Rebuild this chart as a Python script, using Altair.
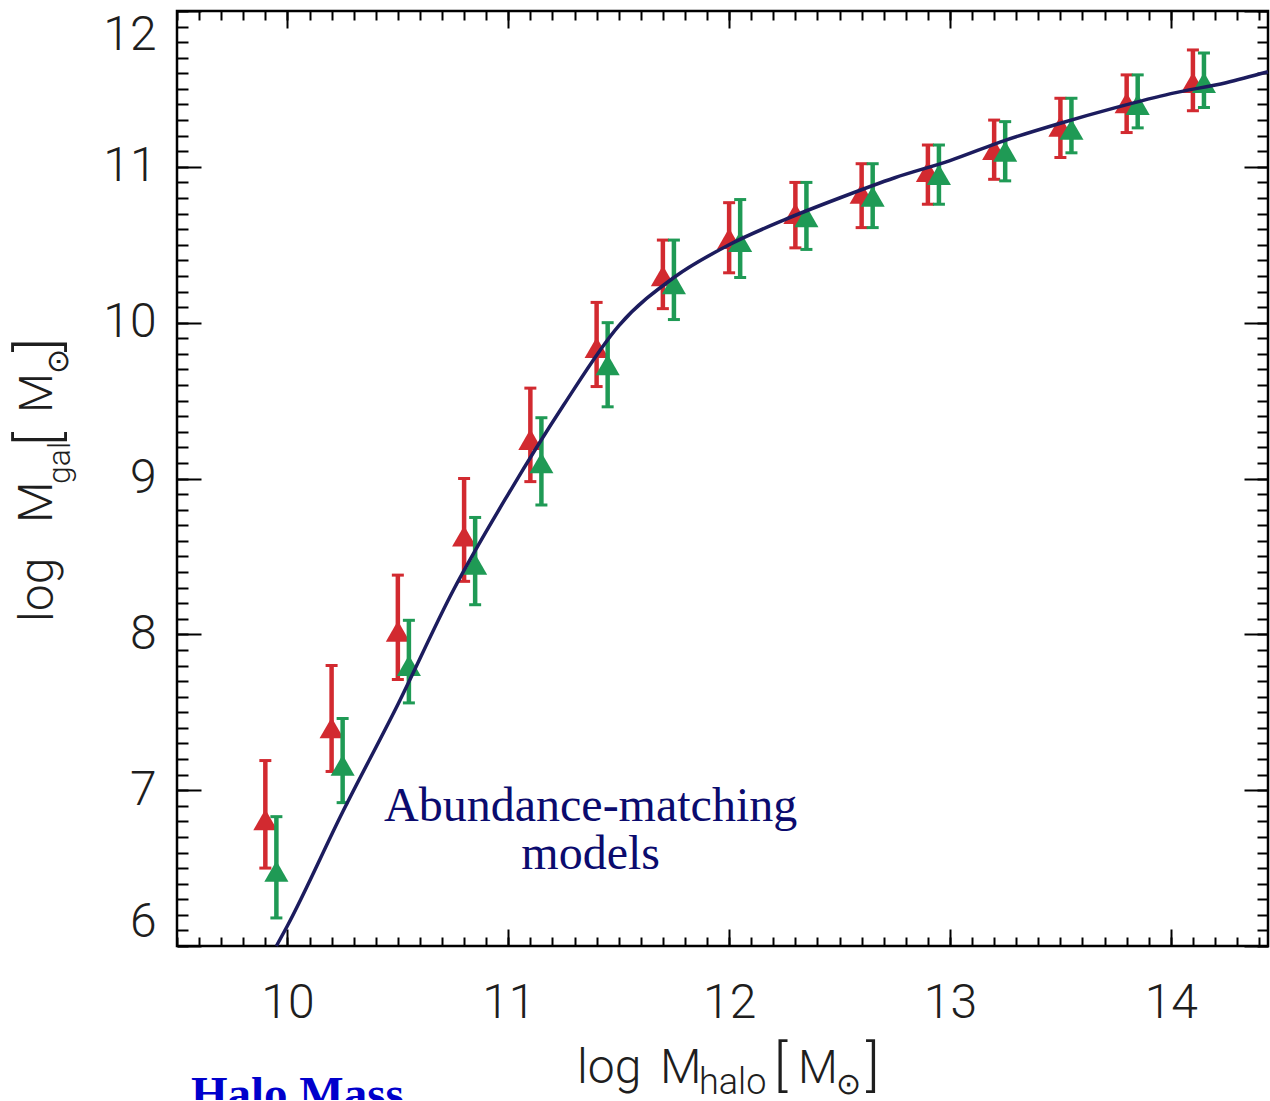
import altair as alt
import pandas as pd

# ---------------- data ----------------
x_red = [9.90, 10.20, 10.50, 10.80, 11.10, 11.40, 11.70, 12.00, 12.30, 12.60, 12.90, 13.20, 13.50, 13.80, 14.10]
y_red = [6.81, 7.40, 8.02, 8.63, 9.25, 9.84, 10.30, 10.54, 10.70, 10.83, 10.97, 11.11, 11.26, 11.41, 11.54]
hi_red = [7.19, 7.80, 8.38, 9.00, 9.58, 10.13, 10.53, 10.77, 10.90, 11.02, 11.14, 11.30, 11.44, 11.59, 11.75]
lo_red = [6.50, 7.12, 7.71, 8.34, 8.98, 9.59, 10.09, 10.32, 10.48, 10.61, 10.76, 10.92, 11.06, 11.22, 11.36]

x_green = [9.95, 10.25, 10.55, 10.85, 11.15, 11.45, 11.75, 12.05, 12.35, 12.65, 12.95, 13.25, 13.55, 13.85, 14.15]
y_green = [6.48, 7.16, 7.80, 8.45, 9.10, 9.73, 10.25, 10.52, 10.68, 10.81, 10.95, 11.10, 11.24, 11.40, 11.54]
hi_green = [6.83, 7.46, 8.09, 8.75, 9.39, 10.00, 10.53, 10.79, 10.90, 11.02, 11.14, 11.29, 11.44, 11.59, 11.73]
lo_green = [6.18, 6.92, 7.56, 8.19, 8.83, 9.46, 10.02, 10.29, 10.47, 10.61, 10.76, 10.91, 11.09, 11.25, 11.38]

model_x = [9.95, 10.00, 10.25, 10.50, 10.75, 11.00, 11.25, 11.50, 11.75, 12.00, 12.25, 12.50,
           12.75, 13.00, 13.25, 13.50, 13.75, 14.00, 14.25, 14.44]
model_y = [6.00, 6.13, 6.86, 7.55, 8.28, 8.90, 9.47, 9.98, 10.29, 10.50, 10.66, 10.80,
           10.93, 11.04, 11.17, 11.28, 11.38, 11.47, 11.54, 11.61]

x_major = [10, 11, 12, 13, 14]
y_major = [6, 7, 8, 9, 10, 11, 12]
x_minor = [round(9.5 + 0.1 * i, 1) for i in range(50)]
y_minor = [round(6.0 + 0.1 * i, 1) for i in range(61)]

annotation_lines = "Abundance-matching\nmodels"

# ---------------- styling ----------------
LEFT, TOP, W, H = 177, 11, 1091, 935
SANS = "Roboto"
SERIF = "Liberation Serif"
INK = "#1e1e1e"
RED = "#d22a30"
GREEN = "#1f9a55"
NAVY = "#1c1c5e"

XS = alt.Scale(domain=[9.5, 14.44], nice=False, zero=False)
YS = alt.Scale(domain=[6, 12], nice=False, zero=False)

red = pd.DataFrame({"x": x_red, "y": y_red, "lo": lo_red, "hi": hi_red})
green = pd.DataFrame({"x": x_green, "y": y_green, "lo": lo_green, "hi": hi_green})
model = pd.DataFrame({"x": model_x, "y": model_y})


def ax(orient, values, size, labels=False, **kw):
    return alt.Axis(orient=orient, values=values, tickSize=size, offset=-size,
                    labels=labels, domain=False, grid=False, title=None,
                    tickColor="black", tickWidth=2, **kw)


lab = dict(labelFont=SANS, labelFontSize=48, labelColor=INK, labelFontWeight=300, format="d")

x_bot_major = ax("bottom", x_major, 17, labels=True, labelPadding=33, labelBaseline="top", **lab)
y_left_major = ax("left", y_major, 24, labels=True, labelPadding=21, labelFlush=True, **lab)
x_bot_minor = ax("bottom", x_minor, 9)
y_left_minor = ax("left", y_minor, 11)
x_top_major = ax("top", x_major, 17)
y_right_major = ax("right", y_major, 24)
x_top_minor = ax("top", x_minor, 9)
y_right_minor = ax("right", y_minor, 11)


def bars(df, color, xa, ya):
    return alt.Chart(df).mark_rule(color=color, strokeWidth=4.5).encode(
        x=alt.X("x:Q", scale=XS, axis=xa),
        y=alt.Y("lo:Q", scale=YS, axis=ya),
        y2="hi:Q")


def caps(df, color, field):
    return alt.Chart(df).mark_tick(color=color, orient="horizontal", size=12, thickness=3, opacity=1).encode(
        x=alt.X("x:Q", scale=XS, axis=None),
        y=alt.Y(f"{field}:Q", scale=YS, axis=None))


def tri(df, color, xa, ya):
    return alt.Chart(df).mark_point(shape="triangle-up", filled=True, size=580, color=color, opacity=1).encode(
        x=alt.X("x:Q", scale=XS, axis=xa),
        y=alt.Y("y:Q", scale=YS, axis=ya))


line = alt.Chart(model).mark_line(color=NAVY, strokeWidth=3.5, interpolate="monotone").encode(
    x=alt.X("x:Q", scale=XS, axis=x_bot_major),
    y=alt.Y("y:Q", scale=YS, axis=y_left_major))

annot = alt.Chart(alt.Data(values=[{}])).mark_text(
    text=annotation_lines, lineBreak="\n", lineHeight=48, font=SERIF, fontSize=48,
    color="#0b0b6e", align="center", baseline="alphabetic").encode(
    x=alt.X(datum=11.373, scale=XS, axis=None),
    y=alt.Y(datum=6.80, scale=YS, axis=None))


def txt(t, px, py, size, angle=0, font=SANS, color=INK, weight=300):
    return alt.Chart(alt.Data(values=[{}])).mark_text(
        text=t, fontSize=size, angle=angle, font=font, color=color, fontWeight=weight,
        align="left", baseline="alphabetic").encode(
        x=alt.value(px - LEFT), y=alt.value(py - TOP))


titles = [
    # x axis title
    txt("log", 577, 1083, 48),
    txt("M", 660, 1083, 48),
    txt("halo", 699, 1094, 36),
    txt("[", 774, 1085, 56),
    txt("M", 798, 1083, 46),
    txt("\u2299", 836, 1094, 30),
    txt("]", 866, 1085, 56),
    # y axis title
    txt("log", 53, 622, 48, angle=270),
    txt("M", 52, 523, 48, angle=270),
    txt("gal", 70, 484, 32, angle=270),
    txt("[", 58, 446, 58, angle=270),
    txt("M", 52, 413, 46, angle=270),
    txt("\u2299", 68, 374, 30, angle=270),
    txt("]", 58, 352, 58, angle=270),
    # slide caption, cut off by the bottom edge
    txt("Halo Mass", 191, 1109, 47, font=SERIF, color="#0000cc", weight="bold"),
]

chart = alt.layer(
    bars(red, RED, x_bot_minor, y_left_minor),
    caps(red, RED, "lo"), caps(red, RED, "hi"),
    tri(red, RED, None, None),
    bars(green, GREEN, x_top_major, y_right_major),
    caps(green, GREEN, "lo"), caps(green, GREEN, "hi"),
    tri(green, GREEN, x_top_minor, y_right_minor),
    line,
    annot,
    *titles,
).resolve_axis(x="independent", y="independent").properties(
    width=W, height=H,
    autosize=alt.AutoSizeParams(type="none"),
    padding={"left": LEFT, "top": TOP, "right": 1270 - LEFT - W, "bottom": 1100 - TOP - H},
    background="white",
).configure_view(stroke="black", strokeWidth=2.5)

chart.save("out.html", embed_options={"renderer": "svg", "actions": False})
